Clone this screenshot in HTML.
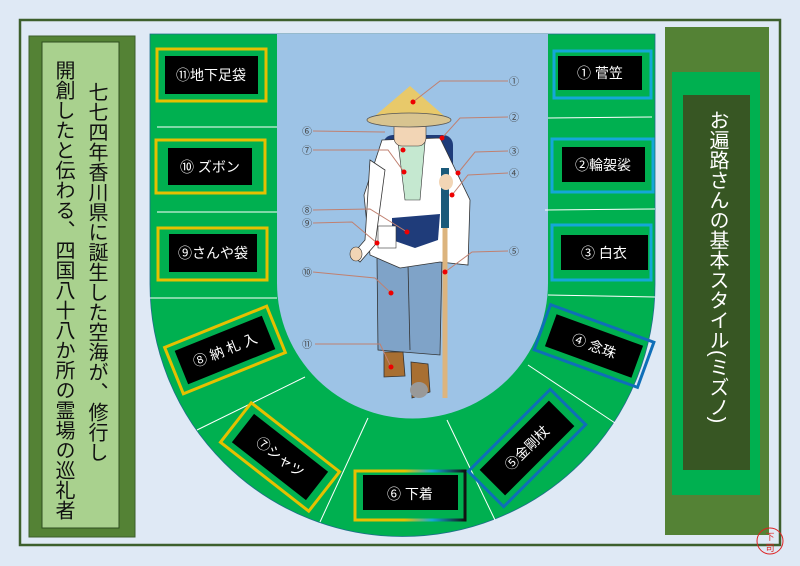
<!DOCTYPE html>
<html><head><meta charset="utf-8"><style>
body{margin:0;width:800px;height:566px;background:#dfe9f5;overflow:hidden;position:relative;font-family:"Liberation Sans","Noto Sans CJK JP",sans-serif}
.v{position:absolute;writing-mode:vertical-rl;white-space:nowrap}
</style></head><body>
<svg width="800" height="566" style="position:absolute;left:0;top:0">
<defs>
<linearGradient id="g6" x1="0" x2="1"><stop offset="0" stop-color="#e6c000"/><stop offset="0.45" stop-color="#e6c000"/><stop offset="0.7" stop-color="#14a8d8"/><stop offset="1" stop-color="#111"/></linearGradient>
</defs>
<rect x="20" y="20" width="760" height="525" fill="#dfe9f5" stroke="#3d5f2c" stroke-width="2.5"/>
<!-- left panel -->
<rect x="29" y="36" width="106" height="501" fill="#548235" stroke="#3d5f2c"/>
<rect x="42" y="42" width="77" height="486" fill="#a9d18e" stroke="#2e4d20"/>
<!-- right panel -->
<rect x="665" y="27" width="104" height="508" fill="#548235"/>
<rect x="672" y="72" width="88" height="423" fill="#00b050"/>
<rect x="683" y="95" width="67" height="375" fill="#375623"/>
<!-- U -->
<path d="M150,34 H655 V284 A252.5,252.5 0 0 1 150,284 Z" fill="#00b050" stroke="#1e6e8a" stroke-width="0.8"/>
<path d="M277,34 H548 V283 A135.5,135.5 0 0 1 277,283 Z" fill="#9dc3e6"/>
<g stroke="#fff" stroke-width="1">
<line x1="157" y1="127" x2="277" y2="127"/><line x1="157" y1="212" x2="277" y2="212"/><line x1="150" y1="298" x2="277" y2="298"/>
<line x1="548" y1="118" x2="652" y2="117"/><line x1="545" y1="210" x2="655" y2="209"/><line x1="548" y1="295" x2="655" y2="297"/>
<line x1="305" y1="377" x2="197" y2="430"/><line x1="368" y1="418" x2="320" y2="522"/>
<line x1="447" y1="420" x2="495" y2="520"/><line x1="528" y1="365" x2="615" y2="423"/>
</g>
<!-- left boxes -->
<g stroke="#e6c000" stroke-width="3" fill="none">
<rect x="157" y="49" width="109" height="52"/><rect x="156" y="140" width="109" height="53"/><rect x="158" y="228" width="109" height="52"/>
</g>
<rect x="165" y="56" width="93" height="38" fill="#000"/>
<rect x="168" y="148" width="84" height="37" fill="#000"/>
<rect x="169" y="234" width="88" height="38" fill="#000"/>
<g stroke="#14a8d8" stroke-width="3" fill="none">
<rect x="554" y="51" width="97" height="47"/><rect x="552" y="139" width="101" height="53"/><rect x="552" y="225" width="99" height="55"/>
</g>
<rect x="558" y="56" width="84" height="34" fill="#000"/>
<rect x="562" y="147" width="83" height="35" fill="#000"/>
<rect x="561" y="235" width="87" height="35" fill="#000"/>
<g fill="#fff" font-size="14" text-anchor="middle" font-family="Liberation Sans,Noto Sans CJK JP,sans-serif">
<text x="211" y="80">⑪地下足袋</text>
<text x="210" y="172">⑩ ズボン</text>
<text x="213" y="258">⑨さんや袋</text>
<text x="600" y="78">①  菅笠</text>
<text x="603" y="170">②輪袈裟</text>
<text x="604" y="258">③   白衣</text>
</g>
<!-- ring boxes -->
<g transform="translate(225,350) rotate(-22)">
<rect x="-55" y="-25" width="110" height="50" fill="none" stroke="#e6c000" stroke-width="3"/>
<rect x="-47" y="-18" width="94" height="36" fill="#000"/>
<text x="0" y="5" fill="#fff" font-size="14" text-anchor="middle">⑧ 納 札 入</text></g>
<g transform="translate(280,457) rotate(38)">
<rect x="-56" y="-25" width="112" height="50" fill="none" stroke="#e6c000" stroke-width="3"/>
<rect x="-47" y="-18" width="94" height="36" fill="#000"/>
<text x="0" y="5" fill="#fff" font-size="14" text-anchor="middle">⑦シャツ</text></g>
<rect x="355" y="471" width="110" height="49" fill="none" stroke="url(#g6)" stroke-width="3"/>
<rect x="363" y="475" width="95" height="35" fill="#000"/>
<text x="410" y="499" fill="#fff" font-size="14" text-anchor="middle">⑥  下着</text>
<g transform="translate(527,448) rotate(-45)">
<rect x="-58" y="-25" width="116" height="50" fill="none" stroke="#0f6fb8" stroke-width="3"/>
<rect x="-49" y="-18" width="98" height="36" fill="#000"/>
<text x="0" y="5" fill="#fff" font-size="14" text-anchor="middle">⑤金剛杖</text></g>
<g transform="translate(594,346) rotate(20)">
<rect x="-55" y="-24" width="110" height="48" fill="none" stroke="#0f6fb8" stroke-width="3"/>
<rect x="-46" y="-17" width="92" height="34" fill="#000"/>
<text x="0" y="5" fill="#fff" font-size="14" text-anchor="middle">④     念珠</text></g>
<!-- figure -->
<rect x="383" y="135" width="70" height="120" rx="10" fill="#1f3c7a"/>
<path d="M377,258 L442,258 L440,355 L378,350 Z" fill="#7fa3c8" stroke="#333" stroke-width="0.8"/>
<line x1="408" y1="265" x2="410" y2="350" stroke="#333" stroke-width="0.8"/>
<path d="M384,352 L403,352 L405,376 L384,377 Z" fill="#a86f32" stroke="#333" stroke-width="0.8"/>
<path d="M411,362 L428,364 L430,392 L412,398 Z" fill="#a86f32" stroke="#333" stroke-width="0.8"/>
<ellipse cx="419" cy="390" rx="9" ry="8" fill="#999"/>
<path d="M382,140 L440,138 L470,200 L468,265 L440,262 L400,268 L370,255 L364,195 Z" fill="#fff" stroke="#333" stroke-width="0.8"/>
<path d="M370,160 L365,240 L352,255 L360,262 L375,245 L385,170 Z" fill="#fff" stroke="#333" stroke-width="0.8"/>
<ellipse cx="356" cy="254" rx="6" ry="7" fill="#f2d5b5" stroke="#333" stroke-width="0.6"/>
<path d="M398,142 L425,142 L420,200 L405,200 Z" fill="#c5e8d0" stroke="#333" stroke-width="0.6"/>
<path d="M392,218 L440,214 L438,240 L415,248 L392,240 Z" fill="#1f3c7a"/>
<rect x="378" y="226" width="18" height="22" fill="#fff" stroke="#333" stroke-width="0.6"/>
<rect x="394" y="118" width="32" height="28" rx="8" fill="#f2d5b5" stroke="#333" stroke-width="0.6"/>
<path d="M410,86 L450,121 L369,121 Z" fill="#e8c96a"/>
<ellipse cx="409" cy="120" rx="42" ry="7" fill="#d8c490" stroke="#555" stroke-width="0.8"/>
<line x1="445" y1="172" x2="445" y2="398" stroke="#dcb47e" stroke-width="5"/>
<rect x="441" y="168" width="8" height="60" fill="#1b5a7a"/>
<ellipse cx="446" cy="182" rx="7" ry="8" fill="#f2d5b5"/>
<!-- leader lines -->
<g stroke="#c08070" stroke-width="1" fill="none">
<polyline points="508,81 440,81 413,102"/>
<polyline points="508,117 460,118 442,138"/>
<polyline points="508,151 475,152 458,173"/>
<polyline points="508,173 468,175 452,195"/>
<polyline points="508,251 472,252 445,272"/>
<polyline points="313,131 385,132"/>
<polyline points="313,150 388,150 404,172"/>
<polyline points="313,210 370,209 407,232"/>
<polyline points="313,223 352,222 377,243"/>
<polyline points="313,272 375,278 391,293"/>
<polyline points="315,344 380,344 391,367"/>
</g>
<g fill="#e00">
<circle cx="413" cy="102" r="2.5"/><circle cx="442" cy="138" r="2.5"/><circle cx="458" cy="173" r="2.5"/><circle cx="452" cy="195" r="2.5"/><circle cx="445" cy="272" r="2.5"/><circle cx="404" cy="172" r="2.5"/><circle cx="407" cy="232" r="2.5"/><circle cx="377" cy="243" r="2.5"/><circle cx="391" cy="293" r="2.5"/><circle cx="391" cy="367" r="2.5"/><circle cx="403" cy="150" r="2.5"/>
</g>
<g fill="#444" font-size="10" text-anchor="middle">
<text x="514" y="85">①</text><text x="514" y="121">②</text><text x="514" y="155">③</text><text x="514" y="177">④</text><text x="514" y="255">⑤</text>
<text x="307" y="135">⑥</text><text x="307" y="154">⑦</text><text x="307" y="214">⑧</text><text x="307" y="227">⑨</text><text x="307" y="276">⑩</text><text x="307" y="348">⑪</text>
</g>
<circle cx="770" cy="541" r="13" fill="none" stroke="#d22" stroke-width="1"/>
<text x="770" y="540" fill="#d22" font-size="9" text-anchor="middle">下</text>
<text x="770" y="551" fill="#d22" font-size="9" text-anchor="middle">司</text>
</svg>
<div class="v" style="left:84px;top:82px;font-size:20px;line-height:24px;color:#111">七七四年香川県に誕生した空海が、修行し</div>
<div class="v" style="left:51px;top:60px;font-size:20px;line-height:24px;color:#111">開創したと伝わる、四国八十八か所の霊場の巡礼者</div>
<div class="v" style="left:704px;top:110px;font-size:20px;line-height:26px;color:#fff">お遍路さんの基本スタイル(ミズノ)</div>
</body></html>
